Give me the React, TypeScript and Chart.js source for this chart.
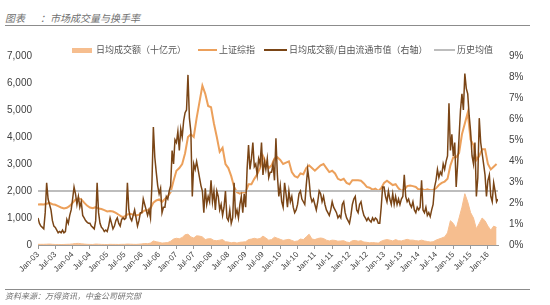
import React, { useEffect, useRef } from 'react';
import { Chart, registerables } from 'chart.js';

Chart.register(...registerables);

// X-axis tick labels (every 6 months, starting Jan 2003)
const xTickLabels = [
  'Jan-03', 'Jul-03', 'Jan-04', 'Jul-04', 'Jan-05', 'Jul-05', 'Jan-06', 'Jul-06', 'Jan-07',
  'Jul-07', 'Jan-08', 'Jul-08', 'Jan-09', 'Jul-09', 'Jan-10', 'Jul-10', 'Jan-11', 'Jul-11',
  'Jan-12', 'Jul-12', 'Jan-13', 'Jul-13', 'Jan-14', 'Jul-14', 'Jan-15', 'Jul-15', 'Jan-16',
];

// 上证综指 (monthly, Jan 2003 – Apr 2016)
const sseIndex = [
  1500, 1510, 1500, 1530, 1560, 1510, 1490, 1440, 1390, 1350, 1380, 1450,
  1560, 1680, 1730, 1690, 1570, 1460, 1390, 1360, 1400, 1350, 1330, 1290,
  1240, 1260, 1240, 1190, 1120, 1050, 1050, 1130, 1160, 1120, 1090, 1120,
  1210, 1280, 1290, 1350, 1570, 1650, 1690, 1600, 1700, 1800, 1960, 2380,
  2750, 2850, 3000, 3400, 4000, 4100, 4000, 4700, 5300, 5900, 5600, 5150,
  5100, 4500, 4000, 3450, 3600, 3000, 2850, 2550, 2150, 1950, 1900, 1950,
  1950, 2250, 2250, 2450, 2620, 2850, 3300, 3050, 2850, 2950, 3200, 3250,
  3150, 3000, 3050, 3100, 2700, 2550, 2500, 2650, 2620, 2850, 2950, 2850,
  2750, 2850, 2950, 3000, 2850, 2700, 2750, 2650, 2450, 2400, 2450, 2300,
  2250, 2400, 2400, 2400, 2380, 2280, 2150, 2120, 2050, 2090, 2000, 2100,
  2300, 2380, 2300, 2220, 2250, 2100, 2000, 2050, 2180, 2200, 2180, 2150,
  2050, 2090, 2020, 2060, 2030, 2040, 2100, 2220, 2300, 2350, 2450, 2950,
  3250, 3250, 3400, 4100, 4500, 4900, 3900, 3700, 3150, 3300, 3550, 3550,
  3000, 2800, 2900, 3000,
];

// 日均成交额（十亿元）(monthly)
const dailyTurnover = [
  25, 25, 25, 30, 35, 25, 20, 20, 18, 20, 25, 28,
  40, 55, 60, 45, 35, 25, 22, 20, 35, 30, 22, 20,
  18, 25, 22, 22, 20, 25, 25, 35, 30, 25, 22, 30,
  40, 55, 50, 70, 150, 120, 100, 70, 80, 90, 140, 220,
  250, 230, 280, 380, 400, 300, 260, 340, 330, 300, 200, 230,
  230, 170, 160, 180, 200, 120, 110, 80, 100, 70, 100, 110,
  120, 200, 220, 250, 220, 240, 330, 260, 180, 200, 290, 250,
  210, 170, 190, 210, 170, 130, 150, 220, 200, 300, 400, 220,
  200, 240, 260, 240, 180, 150, 180, 170, 140, 150, 160, 110,
  90, 160, 170, 140, 160, 110, 100, 80, 90, 80, 70, 140,
  180, 200, 180, 150, 200, 160, 150, 180, 210, 180, 180, 160,
  150, 180, 150, 130, 110, 120, 180, 220, 260, 300, 450, 900,
  800, 600, 1000, 1400, 1900, 1600, 1200, 1000, 600, 800, 1000, 900,
  700, 550, 700, 650,
];

// 日均成交额/自由流通市值 (%), twice a month
const turnoverRatio = [
  1.29, 1.03, 0.90, 0.84, 0.77, 1.54, 2.96, 2.19, 1.93, 1.67, 1.16, 0.90, 0.84, 0.71, 0.58, 0.64, 0.58, 0.71, 0.58, 0.64, 1.22, 1.03, 1.41, 1.67,
  2.19, 2.76, 2.44, 1.93, 2.31, 1.80, 2.06, 1.41, 1.29, 1.16, 1.09, 1.03, 1.03, 0.90, 0.84, 0.77, 1.16, 2.96, 1.54, 1.03, 0.84, 0.77, 0.64, 0.71,
  0.64, 0.90, 1.29, 1.03, 0.77, 0.90, 1.16, 1.29, 1.03, 0.90, 1.22, 1.29, 1.22, 1.29, 2.96, 1.67, 1.29, 1.16, 1.41, 1.67, 1.29, 0.90, 1.16, 1.54,
  1.54, 2.19, 1.93, 1.67, 1.41, 1.67, 1.29, 2.89, 5.62, 4.18, 3.47, 2.83, 2.44, 2.70, 1.54, 1.80, 1.80, 2.31, 2.19, 2.57, 2.83, 4.50, 3.86, 5.01,
  4.88, 5.40, 4.50, 5.53, 5.14, 5.91, 6.30, 6.43, 8.10, 6.04, 5.40, 2.31, 3.86, 3.60, 3.98, 3.60, 3.21, 2.83, 2.57, 1.54, 2.70, 1.93, 2.31, 2.06,
  3.08, 2.06, 2.57, 1.67, 2.57, 2.31, 1.67, 1.93, 1.41, 1.80, 2.57, 1.29, 1.16, 1.67, 1.03, 1.29, 2.96, 1.41, 1.67, 1.29, 1.93, 2.31, 1.54, 2.44,
  1.80, 3.60, 4.76, 3.60, 4.11, 4.88, 3.73, 3.86, 3.34, 4.11, 3.86, 4.88, 3.34, 3.98, 3.60, 4.11, 3.21, 3.47, 3.47, 3.86, 3.08, 5.08, 3.34, 2.31,
  2.83, 2.06, 1.80, 2.96, 2.44, 1.80, 2.57, 2.06, 2.31, 1.80, 1.54, 1.67, 1.93, 2.44, 2.57, 2.19, 2.06, 1.93, 2.83, 3.60, 3.08, 2.31, 2.06, 2.19,
  1.93, 1.67, 2.06, 2.57, 2.44, 2.06, 2.31, 1.93, 1.67, 1.54, 1.41, 1.67, 2.06, 1.80, 1.67, 1.54, 1.29, 1.41, 1.29, 1.93, 2.06, 1.54, 1.29, 1.16,
  1.03, 1.41, 1.93, 2.19, 2.31, 1.67, 1.54, 1.93, 2.06, 1.67, 1.41, 1.29, 1.16, 1.29, 1.16, 1.09, 1.29, 1.16, 1.29, 1.22, 1.03, 1.03, 1.80, 2.76,
  2.76, 2.31, 2.06, 2.57, 2.19, 1.93, 2.44, 1.93, 2.31, 1.93, 2.19, 1.93, 2.19, 2.31, 3.34, 2.31, 2.06, 2.19, 1.93, 1.80, 2.06, 1.67, 1.54, 1.80,
  1.67, 1.80, 3.08, 1.67, 1.54, 1.80, 1.41, 1.54, 1.35, 1.67, 1.93, 2.76, 3.08, 3.60, 3.21, 3.47, 3.34, 3.86, 3.60, 3.98, 4.24, 6.75, 4.50, 5.27,
  4.24, 4.88, 2.76, 3.86, 5.14, 6.43, 7.20, 6.43, 8.16, 7.46, 7.20, 6.17, 5.40, 4.24, 3.86, 4.88, 2.31, 3.21, 6.04, 4.88, 4.37, 3.86, 3.34, 2.31,
  3.08, 3.34, 2.31, 2.06, 2.96, 2.57, 2.06, 2.19,
];

// 历史均值 (%)
const historicalAverage = 2.57;

const COLORS = {
  area: '#F6BE8F',
  index: '#ECA05B',
  ratio: '#7A4516',
  avg: '#BDBDBD',
  text: '#404040',
  legendText: '#555555',
};

const LATIN = '"Liberation Sans", Arial, sans-serif';
const CJK = '"Noto Sans CJK SC", "Noto Sans", sans-serif';

function ChartCanvas() {
  const ref = useRef<HTMLCanvasElement | null>(null);

  useEffect(() => {
    if (!ref.current) return;
    const lastX = (turnoverRatio.length - 1) / 2;
    const chart = new Chart(ref.current, {
      type: 'line',
      data: {
        datasets: [
          {
            label: '日均成交额（十亿元）',
            data: dailyTurnover.map((v, i) => ({ x: i, y: v })),
            yAxisID: 'y',
            borderColor: COLORS.area,
            backgroundColor: COLORS.area,
            borderWidth: 1,
            fill: 'origin',
            pointRadius: 0,
            tension: 0,
            order: 4,
          },
          {
            label: '上证综指',
            data: sseIndex.map((v, i) => ({ x: i, y: v })),
            yAxisID: 'y',
            borderColor: COLORS.index,
            borderWidth: 2,
            fill: false,
            pointRadius: 0,
            tension: 0,
            order: 3,
          },
          {
            label: '日均成交额/自由流通市值（右轴）',
            data: turnoverRatio.map((v, i) => ({ x: i / 2, y: v })),
            yAxisID: 'y1',
            borderColor: COLORS.ratio,
            borderWidth: 1.5,
            fill: false,
            pointRadius: 0,
            tension: 0,
            order: 1,
          },
          {
            label: '历史均值',
            data: [
              { x: 0, y: historicalAverage },
              { x: lastX, y: historicalAverage },
            ],
            yAxisID: 'y1',
            borderColor: COLORS.avg,
            borderWidth: 2,
            fill: false,
            pointRadius: 0,
            tension: 0,
            order: 2,
          },
        ],
      },
      options: {
        animation: false,
        responsive: false,
        devicePixelRatio: 1,
        layout: { padding: { top: 56, left: 0, right: 0, bottom: 0 } },
        plugins: {
          legend: { display: false },
          tooltip: { enabled: false },
          title: { display: false },
        },
        scales: {
          x: {
            type: 'linear',
            min: 0,
            max: lastX,
            grid: {
              display: true,
              drawOnChartArea: false,
              drawTicks: true,
              tickLength: 4,
              color: '#9A9A9A',
            },
            border: { display: true, color: '#9A9A9A', width: 1 },
            ticks: {
              autoSkip: false,
              maxRotation: 45,
              minRotation: 45,
              padding: 1,
              color: COLORS.text,
              font: { family: LATIN, size: 8 },
              callback: (v: any) => xTickLabels[Math.round(Number(v) / 6)] ?? '',
            },
            afterBuildTicks: (scale: any) => {
              scale.ticks = xTickLabels.map((_, i) => ({ value: i * 6 }));
            },
            afterFit: (scale: any) => {
              scale.height = 60;
            },
          },
          y: {
            position: 'left',
            min: 0,
            max: 7000,
            grid: { display: false, drawTicks: false },
            border: { display: false },
            ticks: {
              stepSize: 1000,
              padding: 6,
              color: COLORS.text,
              font: { family: LATIN, size: 10 },
              callback: (v: any) => Number(v).toLocaleString('en-US'),
            },
            afterFit: (scale: any) => {
              scale.width = 38;
            },
          },
          y1: {
            position: 'right',
            min: 0,
            max: 9,
            grid: { display: false, drawTicks: false },
            border: { display: false },
            ticks: {
              stepSize: 1,
              padding: 11,
              color: COLORS.text,
              font: { family: LATIN, size: 10 },
              callback: (v: any) => `${v}%`,
            },
            afterFit: (scale: any) => {
              scale.width = 52;
            },
          },
        },
      },
    });
    return () => chart.destroy();
  }, []);

  return (
    <canvas
      ref={ref}
      width={550}
      height={305}
      style={{ position: 'absolute', left: 0, top: 0, width: 550, height: 305 }}
    />
  );
}

const legendItems = [
  { label: '日均成交额（十亿元）', kind: 'box', color: COLORS.area, markLeft: 72, markWidth: 20, textLeft: 96 },
  { label: '上证综指', kind: 'line', color: COLORS.index, markLeft: 198, markWidth: 19, textLeft: 219 },
  { label: '日均成交额/自由流通市值（右轴）', kind: 'line', color: COLORS.ratio, markLeft: 264, markWidth: 23, textLeft: 289 },
  { label: '历史均值', kind: 'line', color: COLORS.avg, markLeft: 434, markWidth: 21, textLeft: 457 },
];

export default function App() {
  return (
    <div
      style={{
        position: 'fixed',
        left: 0,
        top: 0,
        width: 550,
        height: 305,
        background: '#ffffff',
        overflow: 'hidden',
      }}
    >
      {/* Title */}
      <div
        style={{
          position: 'absolute', left: 5, top: 12, fontFamily: CJK, fontSize: 10,
          fontStyle: 'italic', color: '#707070', lineHeight: '12px', whiteSpace: 'pre',
        }}
      >
        图表
      </div>
      <div
        style={{
          position: 'absolute', left: 40, top: 12, fontFamily: CJK, fontSize: 10,
          fontStyle: 'italic', color: '#707070', lineHeight: '12px', whiteSpace: 'pre',
        }}
      >
        ：市场成交量与换手率
      </div>
      <div style={{ position: 'absolute', left: 5, top: 25, width: 525, height: 1, background: '#8C8C8C' }} />

      <ChartCanvas />

      {/* Legend */}
      {legendItems.map((it) => (
        <React.Fragment key={it.label}>
          <div
            style={{
              position: 'absolute',
              left: it.markLeft,
              top: it.kind === 'box' ? 48 : 49,
              width: it.markWidth,
              height: it.kind === 'box' ? 5 : 2,
              background: it.color,
            }}
          />
          <div
            style={{
              position: 'absolute', left: it.textLeft, top: 44, fontFamily: CJK, fontSize: 9,
              lineHeight: '12px', color: COLORS.legendText, whiteSpace: 'nowrap',
            }}
          >
            {it.label}
          </div>
        </React.Fragment>
      ))}

      {/* Footer */}
      <div style={{ position: 'absolute', left: 5, top: 289, width: 525, height: 1, background: '#8C8C8C' }} />
      <div
        style={{
          position: 'absolute', left: 5, top: 291, fontFamily: CJK, fontSize: 8,
          fontStyle: 'italic', color: '#707070', lineHeight: '10px', whiteSpace: 'nowrap',
        }}
      >
        资料来源：万得资讯，中金公司研究部
      </div>
    </div>
  );
}
